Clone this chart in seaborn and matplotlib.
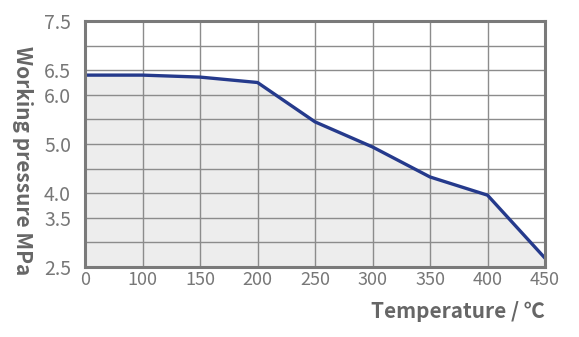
import numpy as np
import pandas as pd
import matplotlib
matplotlib.use("Agg")
import matplotlib.pyplot as plt
import seaborn as sns

# Data
temp_labels = ["0", "100", "150", "200", "250", "300", "350", "400", "450"]
pressure = [6.40, 6.40, 6.36, 6.25, 5.45, 4.94, 4.33, 3.96, 2.68]
y_ticks = [2.5, 3.5, 4.0, 5.0, 6.0, 6.5, 7.5]
y_tick_labels = ["2.5", "3.5", "4.0", "5.0", "6.0", "6.5", "7.5"]

sns.set_theme(style="white")
plt.rcParams['font.family'] = ['Noto Sans CJK SC', 'DejaVu Sans']

df = pd.DataFrame({"pos": np.arange(len(temp_labels)), "pressure": pressure})

fig = plt.figure(figsize=(5.79, 3.37), dpi=100)
ax = fig.add_axes([85 / 579, 1 - 267 / 337, (545 - 85) / 579, (267 - 21) / 337])

ax.fill_between(df["pos"], df["pressure"], 2.5, color="#ededed", zorder=1, linewidth=0)
sns.lineplot(data=df, x="pos", y="pressure", ax=ax, color="#253a8c", linewidth=2.4,
             zorder=3, solid_joinstyle="round", solid_capstyle="round")

ax.set_xlim(0, len(temp_labels) - 1)
ax.set_ylim(2.5, 7.5)
ax.set_xticks(np.arange(len(temp_labels)))
ax.set_xticklabels(temp_labels)
ax.set_yticks(np.arange(2.5, 7.51, 0.5), minor=True)
ax.set_yticks(y_ticks)
ax.set_yticklabels(y_tick_labels)

ax.grid(True, which="both", axis="y", color="#8c8c8c", linewidth=1.0, zorder=2)
ax.grid(True, which="major", axis="x", color="#8c8c8c", linewidth=1.0, zorder=2)
ax.set_axisbelow(False)
ax.tick_params(axis="both", which="both", length=0)
ax.tick_params(axis="y", labelsize=14, labelcolor="#777777", pad=10)
ax.tick_params(axis="x", labelsize=13, labelcolor="#777777", pad=3)
for lab in ax.get_xticklabels() + ax.get_yticklabels():
    lab.set_fontweight("light")

for s in ax.spines.values():
    s.set_color("#7a7a7a")
    s.set_linewidth(2.2)
    s.set_zorder(4)

ax.set_xlabel("")
ax.set_ylabel("")
fig.text(545 / 579, 1 - 311 / 337, "Temperature / ℃", ha="right", va="center",
         fontsize=15, fontweight="bold", color="#666666")
fig.text(22 / 579, 1 - 161 / 337, "Working pressure MPa", ha="center", va="center",
         rotation=-90, fontsize=15, fontweight="bold", color="#666666")

fig.savefig("out.png", dpi=100)
